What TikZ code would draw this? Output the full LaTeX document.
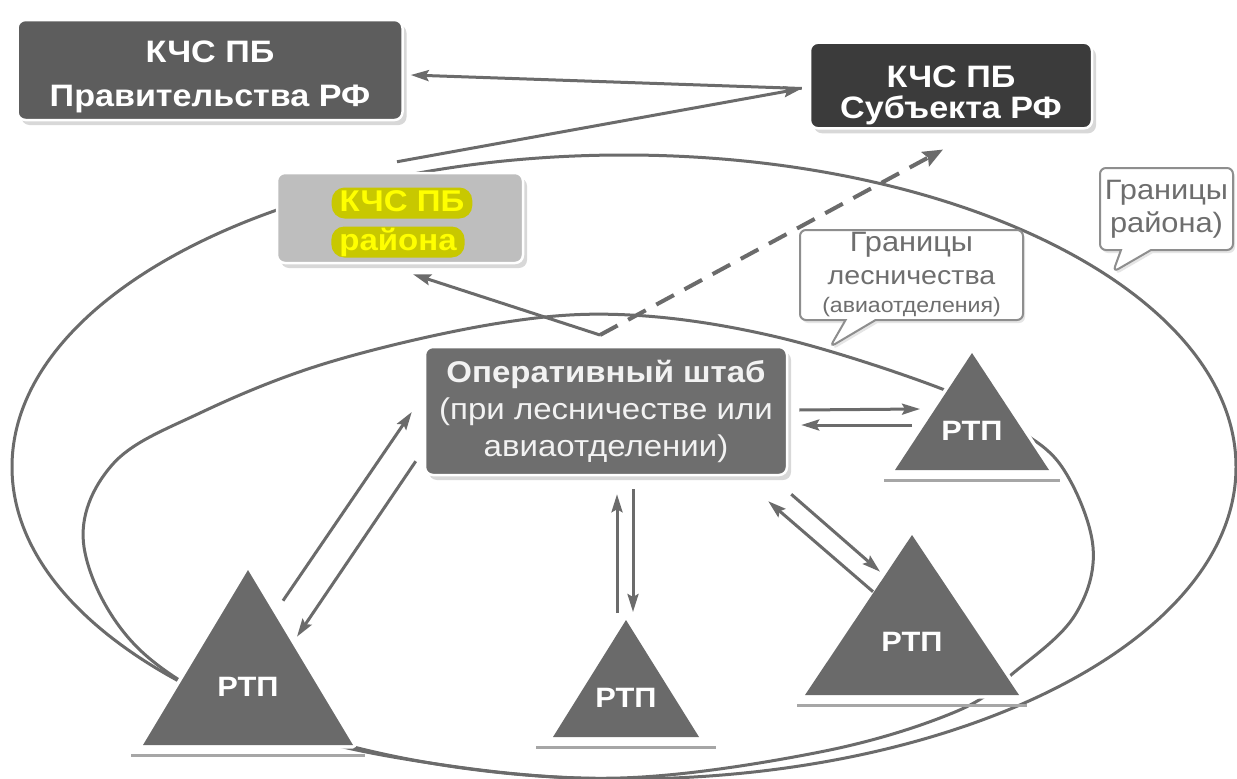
\documentclass[tikz,border=0pt]{standalone}
\usepackage{fontspec}
\setmainfont{Liberation Sans}[FakeStretch=1.1]
\usetikzlibrary{arrows.meta,shapes.callouts,shadows}
\definecolor{govfill}{HTML}{5D5D5D}
\definecolor{subjfill}{HTML}{3B3B3B}
\definecolor{rayfill}{HTML}{BEBEBE}
\definecolor{hqfill}{HTML}{6E6E6E}
\definecolor{trifill}{HTML}{6A6A6A}
\definecolor{linec}{HTML}{6B6B6B}
\definecolor{hlfill}{HTML}{C8C800}
\definecolor{hltext}{HTML}{FFFF00}
\definecolor{notec}{HTML}{8E8E8E}
\definecolor{notetext}{HTML}{6E6E6E}
\begin{document}
\begin{tikzpicture}[x=1pt,y=-1pt,
every node/.style={font=\bfseries},
box/.style={%
draw=white,
line width=2.5pt,
rounded corners=8pt,
text=white,
align=center,
font=\bfseries\fontsize{31}{44}\selectfont,
drop shadow={shadow xshift=4pt,shadow yshift=-5pt,fill=black!30}
},
hl/.style={%
fill=hlfill,
text=hltext,
rounded corners=13pt,
inner xsep=8pt,
inner ysep=1.5pt,
text height=22pt,
text depth=6pt,
font=\bfseries\fontsize{30}{32}\selectfont
},
rtp/.style={%
text=white,
inner sep=0pt,
font=\bfseries\fontsize{28}{30}\selectfont
},
note/.style={%
rectangle callout,
draw=notec,
fill=white,
line width=2pt,
rounded corners=6pt,
text=notetext,
align=center,
inner sep=2pt,
callout pointer width=30pt,
font=\mdseries\fontsize{28}{33}\selectfont,
drop shadow={shadow xshift=2pt,shadow yshift=-3pt,fill=black!20}
},
zone/.style={draw=linec,line width=3pt},
link/.style={draw=linec,line width=3pt,-{Stealth[length=18pt,width=11pt,inset=3pt]}},
dlink/.style={draw=linec,line width=4pt,dash pattern=on 20pt off 12pt,-{Stealth[length=20pt,width=16pt,inset=3pt]}}
]
\useasboundingbox (0,0) rectangle (1237,779);
\fill[white] (0,0) rectangle (1237,779);
% boundaries of the district and of the forestry
\draw[zone] (624,467) ellipse [x radius=612, y radius=312];
\draw[zone] plot[smooth cycle,tension=0.6] coordinates {(620,778) (430,763) (270,725) (140,650) (84,547) (112,465) (200,413) (330,362) (500,323) (630,315) (777,337) (937,387) (1010,425) (1062,467) (1093,547) (1075,615) (1017,670) (955,712) (820,752)};
% fire managers
\foreach \n/\ax/\ay/\hb/\h/\hs in {tl/248/570/105/175/117,tm/626/620/73/117/90,tru/972/353/77/117/88,trl/912/535/107/160/115}{%
\draw[black!35,line width=3pt] ({\ax-\hs},{\ay+\h+10}) -- ({\ax+\hs},{\ay+\h+10});
\filldraw[fill=trifill,draw=white,line width=7pt,line join=round] (\ax,\ay) -- ++(\hb,\h) -- ++({-2*\hb},0) -- cycle;
\fill[trifill] (\ax,\ay) -- ++(\hb,\h) -- ++({-2*\hb},0) -- cycle;
\node[rtp] (\n) at (\ax,{\ay+2*\h/3}) {РТП};
}
% commissions and staff
\node[box,fill=govfill,minimum width=385pt,minimum height=100pt] (gov) at (210,70) {\rule{0pt}{34.5pt}КЧС ПБ\\Правительства РФ};
\node[box,fill=subjfill,minimum width=282pt,minimum height=83pt,font=\bfseries\fontsize{31}{31}\selectfont] (subj) at (951,85.5) {\rule{0pt}{41.5pt}КЧС ПБ\\Субъекта РФ};
\node[box,fill=rayfill,minimum width=246pt,minimum height=90pt] (rayon) at (400,218) {};
\node[hl] (rayon1) at ([xshift=2pt,yshift=15pt]rayon.center) {КЧС ПБ};
\node[hl] (rayon2) at ([xshift=-2pt,yshift=-24pt]rayon.center) {района};
\node[box,fill=hqfill,minimum width=362pt,minimum height=128pt,text=white!95!black,font=\bfseries\fontsize{30}{37}\selectfont] (hq) at (606,411) {Оперативный штаб\\ \mdseries (при лесничестве или\\ \mdseries авиаотделении)};
% links
\coordinate (hqtop) at (600,335);
\draw[link] ([xshift=-7pt,yshift=-3pt]subj.west) -- ([xshift=7pt,yshift=-5pt]gov.east);
\draw[link] ([xshift=-3pt,yshift=10pt]rayon.north) -- ([xshift=-7pt,yshift=-3pt]subj.west);
\draw[link] (hqtop) -- ([xshift=13pt,yshift=-10pt]rayon.south);
\draw[dlink] (hqtop) -- ([xshift=-8pt,yshift=-20pt]subj.south);
\draw[link] ([xshift=35pt,yshift=86pt]tl.center) -- ([xshift=-12pt,yshift=-1pt]hq.west);
\draw[link] ([xshift=-8pt,yshift=15pt]hq.south west) -- ([xshift=49pt,yshift=50pt]tl.center);
\draw[link] ([xshift=-9pt,yshift=85pt]tm.center) -- ([xshift=11pt,yshift=-18pt]hq.south);
\draw[link] ([xshift=27pt,yshift=-13pt]hq.south) -- ([xshift=7pt,yshift=86pt]tm.center);
\draw[link] ([xshift=11pt,yshift=1pt]hq.east) -- ([xshift=-52pt,yshift=22pt]tru.center);
\draw[link] ([xshift=-60pt,yshift=6pt]tru.center) -- ([xshift=13pt,yshift=-14pt]hq.east);
\draw[link] ([xshift=3pt,yshift=-18pt]hq.south east) -- ([xshift=-32pt,yshift=70pt]trl.center);
\draw[link] ([xshift=-39pt,yshift=50pt]trl.center) -- ([xshift=-20pt,yshift=-25pt]hq.south east);
% callouts
\node[note,callout absolute pointer={(830,347)},minimum width=223pt,minimum height=90pt] (lesn) at (911.5,275) {Границы\\{\fontsize{26}{32}\selectfont лесничества}\\[-5pt]{\fontsize{21}{27}\selectfont(авиаотделения)}};
\node[note,callout absolute pointer={(1113,272)},minimum width=133pt,minimum height=82pt] (raj) at (1166.5,209) {Границы\\района)};
\end{tikzpicture}
\end{document}
